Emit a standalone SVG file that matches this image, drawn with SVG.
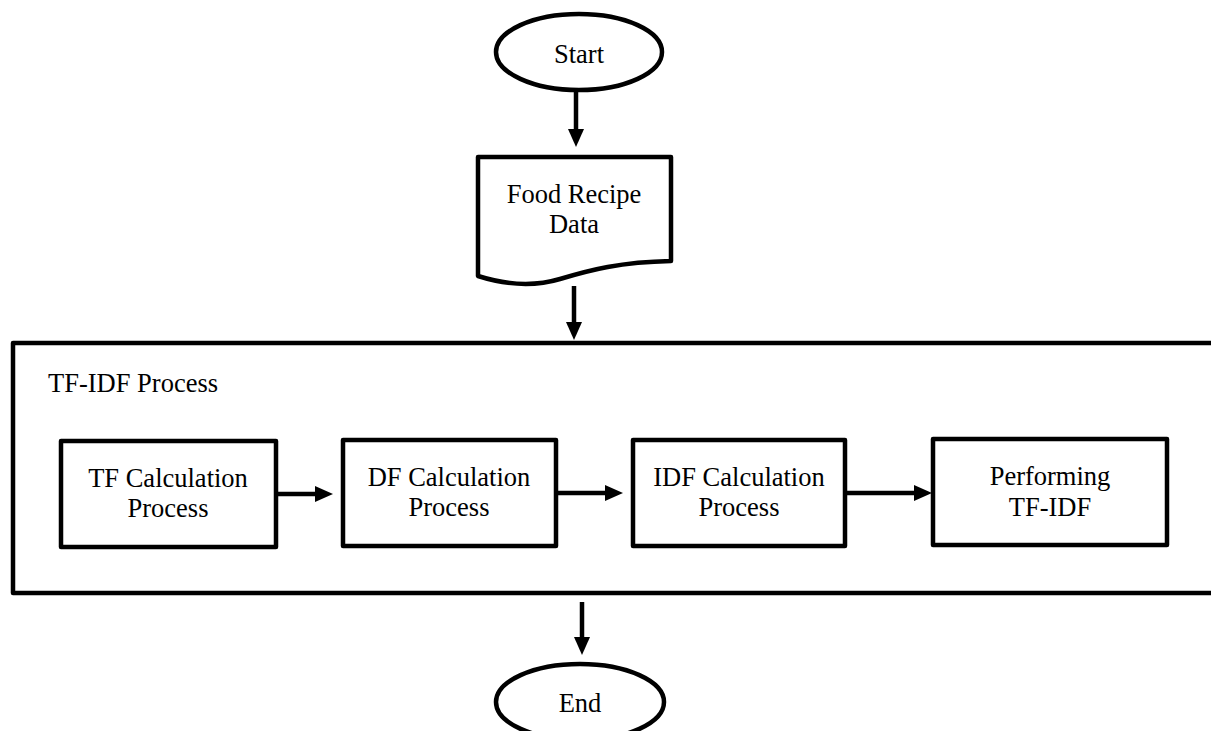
<svg xmlns="http://www.w3.org/2000/svg" width="1211" height="731" viewBox="0 0 1211 731">
<style>
.shape{fill:#fff;stroke:#000;stroke-width:4.5;stroke-linejoin:round}
.conn{stroke:#000;stroke-width:4.5;fill:none}
text{font-family:"Liberation Serif","Times New Roman",serif;font-size:26.5px;fill:#000;text-anchor:middle}
.lbl{text-anchor:start}
</style>
<defs>
<marker id="ah" markerUnits="userSpaceOnUse" markerWidth="18" markerHeight="16" refX="4" refY="8" orient="auto">
<path d="M0,0 L18,8 L0,16 z" fill="#000"/>
</marker>
</defs>
<g id="tfidf-process">
<rect class="shape" x="13" y="343" width="1210" height="250"/>
<text class="lbl" x="48" y="392">TF-IDF Process</text>
</g>
<g id="start">
<ellipse class="shape" cx="579" cy="52" rx="83" ry="38"/>
<text x="579" y="63">Start</text>
</g>
<g id="food-recipe-data">
<path class="shape" d="M478,157 L671,157 L671,261 C620,262 590,270 560,279 C530,288 500,283 478,276 Z"/>
<text x="574" y="203">Food Recipe</text>
<text x="574" y="233">Data</text>
</g>
<g id="tf-calc">
<rect class="shape" x="61" y="441" width="215" height="106"/>
<text x="168" y="487">TF Calculation</text>
<text x="168" y="517">Process</text>
</g>
<g id="df-calc">
<rect class="shape" x="343" y="440" width="213" height="106"/>
<text x="449" y="486">DF Calculation</text>
<text x="449" y="516">Process</text>
</g>
<g id="idf-calc">
<rect class="shape" x="633" y="440" width="212" height="106"/>
<text x="739" y="486">IDF Calculation</text>
<text x="739" y="516">Process</text>
</g>
<g id="performing">
<rect class="shape" x="933" y="439" width="234" height="106"/>
<text x="1050" y="485">Performing</text>
<text x="1050" y="516">TF-IDF</text>
</g>
<g id="end">
<ellipse class="shape" cx="580" cy="702" rx="84" ry="38"/>
<text x="580" y="712">End</text>
</g>
<g id="connectors">
<line class="conn" x1="576" y1="90" x2="576" y2="133" marker-end="url(#ah)"/>
<line class="conn" x1="574" y1="286" x2="574" y2="326" marker-end="url(#ah)"/>
<line class="conn" x1="276" y1="494" x2="319" y2="494" marker-end="url(#ah)"/>
<line class="conn" x1="556" y1="493" x2="609" y2="493" marker-end="url(#ah)"/>
<line class="conn" x1="845" y1="493" x2="918" y2="493" marker-end="url(#ah)"/>
<line class="conn" x1="582" y1="602" x2="582" y2="641" marker-end="url(#ah)"/>
</g>
</svg>
